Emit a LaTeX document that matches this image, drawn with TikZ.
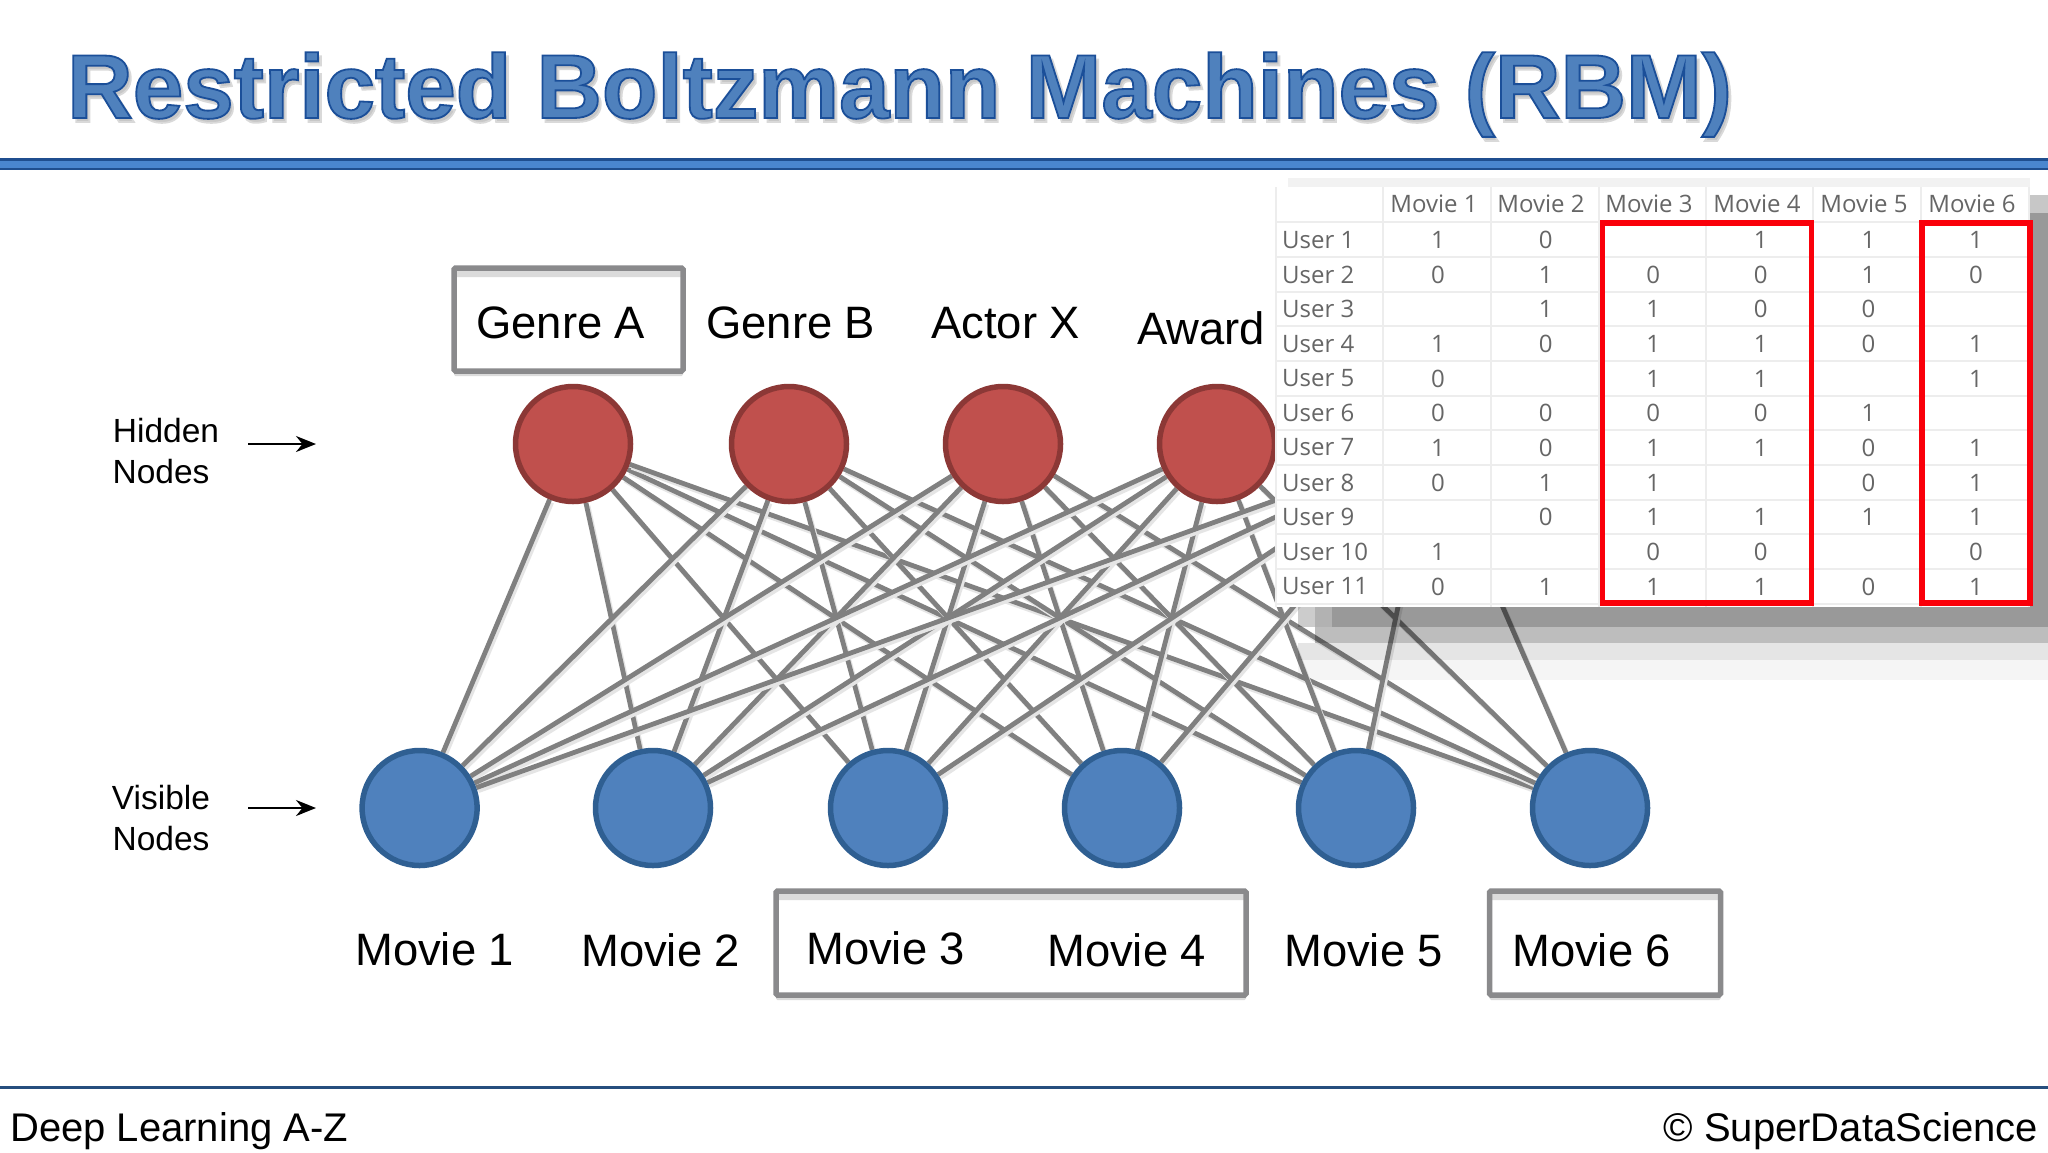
\documentclass[tikz,border=0pt]{standalone}
\usepackage{fontspec}
\setmainfont{Liberation Sans}
\newfontfamily\titlefont[FakeBold=2]{Liberation Sans Bold}
\newfontfamily\tablefont{Open Sans}
\usetikzlibrary{shadows,backgrounds,arrows.meta}
\definecolor{hfill}{HTML}{C0504D}
\definecolor{hline}{HTML}{8C3836}
\definecolor{vfill}{HTML}{4F81BD}
\definecolor{vline}{HTML}{2F5F92}
\definecolor{rulefill}{HTML}{4A86CF}
\definecolor{ruleedge}{HTML}{1F4E8F}
\definecolor{edgegray}{HTML}{808080}
\definecolor{boxgray}{HTML}{8A8A8C}
\definecolor{gridgray}{HTML}{EDEDED}
\definecolor{cellink}{HTML}{666666}
\definecolor{footrule}{HTML}{264E7E}
\tikzset{
  x=1pt,y=-1pt,
  hidden/.style={circle,draw=hline,fill=hfill,line width=5.5pt,minimum size=115pt,inner sep=0pt},
  visible/.style={circle,draw=vline,fill=vfill,line width=5.5pt,minimum size=115pt,inner sep=0pt},
  link/.style={edgegray,line width=4.8pt,preaction={draw=black!10,line width=4.8pt,transform canvas={shift={(2pt,-3pt)}}}},
  frame/.style={draw=boxgray,line width=5.5pt,rounded corners=1.5pt,fill=white,inner sep=0pt,
    general shadow={shadow xshift=0pt,shadow yshift=-5pt,fill=black!14},
    path picture={\fill[black!14] (path picture bounding box.north west) rectangle ([yshift=-9pt]path picture bounding box.north east);}},
  label/.style={anchor=base west,inner sep=0pt,font=\fontsize{45.4}{46}\selectfont,text=black},
  side/.style={anchor=base,inner sep=0pt,font=\fontsize{33.5}{33.5}\selectfont,text=black},
  foot/.style={inner sep=0pt,font=\fontsize{40}{40}\selectfont,text=black},
  pointer/.style={black,line width=2.5pt,-{Stealth[length=20pt,width=16pt]}},
  cell/.style={inner sep=0pt,font=\tablefont\fontsize{24}{24}\selectfont,text=cellink},
  grid/.style={gridgray,line width=1.2pt},
  redbox/.style={draw={rgb,255:red,250;green,0;blue,10},line width=5.5pt,fill=none,inner sep=0pt},
  shade/.style={fill=black,draw=none},
}
\begin{document}
\begin{tikzpicture}
\useasboundingbox (0,0) rectangle (2048,1152);
% network nodes
\foreach \n/\x in {1/573,2/789,3/1003,4/1217,5/1432}
  \node[hidden] (h\n) at (\x,444) {};
\foreach \n/\x in {1/419.6,2/653,3/888,4/1122,5/1356,6/1590}
  \node[visible] (v\n) at (\x,808) {};
\begin{scope}[on background layer]
  \fill[white] (0,0) rectangle (2048,1152);
  \foreach \a in {1,...,5}
    \foreach \b in {1,...,6}
      \draw[link] (h\a) -- (v\b);
\end{scope}
% header
\node[anchor=base west,inner sep=0pt,text=black!22,font=\titlefont\fontsize{90.8}{91}\selectfont] at (70,122) {\special{pdf:code 0.85 0.85 0.85 RG}Restricted Boltzmann Machines (RBM)};
\node (title) [anchor=base west,inner sep=0pt,text=vfill,font=\titlefont\fontsize{90.8}{91}\selectfont] at (67,118) {\special{pdf:code 0.106 0.31 0.60 RG}Restricted Boltzmann Machines (RBM)};
\fill[ruleedge] (0,158) rectangle (2048,170);
\fill[rulefill] (0,160.5) rectangle (2048,167.5);
% label frames
\node[frame,minimum width=229pt,minimum height=103pt] (fa) at (568.5,319.5) {};
\node[frame,minimum width=470pt,minimum height=104pt] (fb) at (1011,943) {};
\node[frame,minimum width=231pt,minimum height=104pt] (fc) at (1605,943) {};
% labels
\node[label] (genreA) at (476,338) {Genre A};
\node[label] (genreB) at (706,338) {Genre B};
\node[label] (actorX) at (931,338) {Actor X};
\node[label] (award) at (1137,344) {Award};
\node[label] (m1) at (355,965) {Movie 1};
\node[label] (m2) at (581,966) {Movie 2};
\node[label] (m3) at (806,964) {Movie 3};
\node[label] (m4) at (1047,966) {Movie 4};
\node[label] (m5) at (1284,966) {Movie 5};
\node[label] (m6) at (1512,966) {Movie 6};
\node[side] (hid1) at (166,442) {Hidden};
\node[side] (hid2) at (161,483) {Nodes};
\node[side] (vis1) at (161,809) {Visible};
\node[side] (vis2) at (161,850) {Nodes};
\coordinate (ha) at (248,444); \coordinate (hb) at (316,444);
\coordinate (va) at (248,808); \coordinate (vb) at (316,808);
\draw[pointer] (ha) -- (hb);
\draw[pointer] (va) -- (vb);
% table shadow (translucent, over the connectors)
\fill[shade,opacity=.40] (1332,607) rectangle (2048,627);
\fill[shade,opacity=.30] (1315,607) rectangle (1332,627);
\fill[shade,opacity=.20] (1298,607) rectangle (1315,627);
\fill[shade,opacity=.26] (1315,627) rectangle (2048,643);
\fill[shade,opacity=.10] (1298,643) rectangle (2048,660);
\fill[shade,opacity=.04] (1298,660) rectangle (2048,680);
\fill[shade,opacity=.22] (2030,195) rectangle (2048,213);
\fill[shade,opacity=.40] (2030,213) rectangle (2048,607);
\fill[shade,opacity=.05] (1288,178) rectangle (2030,187);
% table
\fill[white] (1275,187) rectangle (2030,607);
\foreach \y in {222,257,292,326,361,396,430,465,500,534,569,604}
  \draw[grid] (1275,\y) -- (2030,\y);
\foreach \x in {1276,1383,1491,1599,1706,1813,1921,2029}
  \draw[grid] (\x,187) -- (\x,607);
\foreach \c/\x in {1/1434,2/1541,3/1649,4/1757,5/1864,6/1972}
  \node[cell] (th\c) at (\x,204) {Movie \c};
\foreach \r/\y/\vals in {
  1/240/{1,0,,1,1,1},
  2/274.5/{0,1,0,0,1,0},
  3/309/{,1,1,0,0,},
  4/344/{1,0,1,1,0,1},
  5/378.5/{0,,1,1,,1},
  6/413/{0,0,0,0,1,},
  7/447.5/{1,0,1,1,0,1},
  8/482.5/{0,1,1,,0,1},
  9/517/{,0,1,1,1,1},
  10/552/{1,,0,0,,0},
  11/586.5/{0,1,1,1,0,1}}{
  \node[cell,anchor=west] (user\r) at (1282,\y) {User \r};
  \foreach \v [count=\i] in \vals {
    \pgfmathsetmacro{\cx}{1438+107.6*(\i-1)}
    \node[cell] (c\r-\i) at (\cx,\y) {\v};
  }
}
\node[redbox,rectangle,minimum width=209pt,minimum height=380pt] (rb1) at (1707,413) {};
\node[redbox,rectangle,minimum width=108pt,minimum height=380pt] (rb2) at (1976,413) {};
% footer
\draw[footrule,line width=3.5pt] (0,1087.5) -- (2048,1087.5);
\node[foot,anchor=base west] (fl) at (10,1141) {Deep Learning A-Z};
\node[foot,anchor=base east] (fr) at (2038,1141) {© SuperDataScience};
\end{tikzpicture}
\end{document}
